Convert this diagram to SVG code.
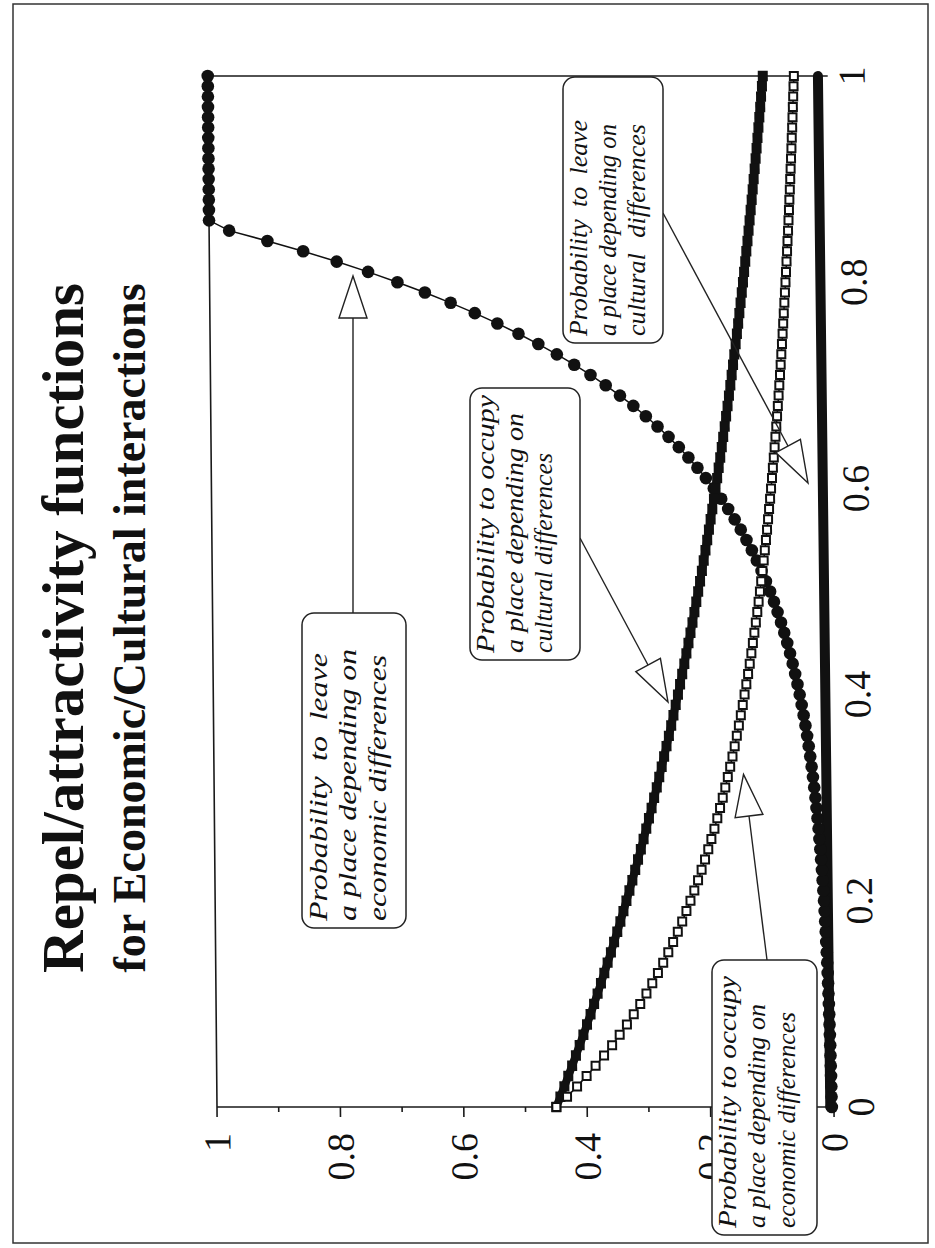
<svg xmlns="http://www.w3.org/2000/svg" width="935" height="1248" viewBox="0 0 935 1248">
<defs>
<style>
.ax{stroke:#1a1a1a;stroke-width:1.6;fill:none}
.lbl{font-family:"Liberation Serif","Times New Roman",serif;font-size:38px;fill:#111}
.ttl{font-family:"Liberation Serif","Times New Roman",serif;font-weight:bold;fill:#111}
.box{fill:#fff;stroke:#222;stroke-width:1.5}
.bt{font-family:"Liberation Serif","Times New Roman",serif;font-style:italic;font-size:26px;fill:#111}
.arr{stroke:#222;stroke-width:1.4;fill:none}
.head{fill:#fff;stroke:#222;stroke-width:1.4;stroke-linejoin:miter}
.ser{fill:none;stroke:#111;vector-effect:non-scaling-stroke}
</style>
<marker id="mDot" markerUnits="userSpaceOnUse" overflow="visible" refX="0" refY="0" markerWidth="1" markerHeight="1"><ellipse rx="10.21" ry="0.611" fill="#111"/></marker>
<marker id="mSq" markerUnits="userSpaceOnUse" overflow="visible" refX="0" refY="0" markerWidth="1" markerHeight="1"><rect x="-8.1" y="-0.505" width="16.2" height="1.01" fill="#111"/></marker>
<marker id="mOpen" markerUnits="userSpaceOnUse" overflow="visible" refX="0" refY="0" markerWidth="1" markerHeight="1"><rect x="-8.1" y="-0.485" width="16.2" height="0.97" fill="#111"/><rect x="-4.86" y="-0.291" width="9.72" height="0.582" fill="#fff"/></marker>
</defs>
<rect x="0" y="0" width="935" height="1248" fill="#fff"/>
<rect id="border" x="13" y="4" width="915" height="1239" fill="none" stroke="#333" stroke-width="1.5"/>
<g id="title">
<text class="ttl" font-size="59" text-anchor="middle" transform="translate(83,628) rotate(-90)">Repel/attractivity functions</text>
<text class="ttl" font-size="46" text-anchor="middle" transform="translate(145,628) rotate(-90)">for Economic/Cultural interactions</text>
</g>
<g id="chart" transform="matrix(1,0,0.009,1,-9.963,0)">
<path class="ax" d="M217,1107 V76 H837 M217,1107 H834"/>
<path class="ax" d="M217,1107V1117 M278.7,1107V1112 M340.4,1107V1117 M402.1,1107V1112 M463.8,1107V1117 M525.5,1107V1112 M587.2,1107V1117 M648.9,1107V1112 M710.6,1107V1117 M772.3,1107V1112 M834,1107V1117"/>
<g id="xlabels">
<text class="lbl" text-anchor="middle" transform="translate(874,1107) rotate(-90)">0</text>
<text class="lbl" text-anchor="middle" transform="translate(874,900.8) rotate(-90)">0.2</text>
<text class="lbl" text-anchor="middle" transform="translate(874,694.6) rotate(-90)">0.4</text>
<text class="lbl" text-anchor="middle" transform="translate(874,488.4) rotate(-90)">0.6</text>
<text class="lbl" text-anchor="middle" transform="translate(874,282.2) rotate(-90)">0.8</text>
<text class="lbl" text-anchor="middle" transform="translate(874,76) rotate(-90)">1</text>
</g>
<g id="ylabels">
<text class="lbl" text-anchor="end" transform="translate(230,1133) rotate(-90)">1</text>
<text class="lbl" text-anchor="end" transform="translate(353.4,1133) rotate(-90)">0.8</text>
<text class="lbl" text-anchor="end" transform="translate(476.8,1133) rotate(-90)">0.6</text>
<text class="lbl" text-anchor="end" transform="translate(600.2,1133) rotate(-90)">0.4</text>
<text class="lbl" text-anchor="end" transform="translate(723.6,1133) rotate(-90)">0.2</text>
<text class="lbl" text-anchor="end" transform="translate(847,1133) rotate(-90)">0</text>
</g>
<g id="series" transform="matrix(-0.617,0,0,-10.31,834,1107)">
<polyline id="s4" class="ser" stroke-width="10" stroke-linecap="round" points="6,0 11,100"/>
<polyline id="s1" class="ser" stroke-width="1.5" marker-start="url(#mDot)" marker-mid="url(#mDot)" marker-end="url(#mDot)" points="3.5,0 3.8,1 4,2 4.3,3 4.6,4 4.9,5 5.2,6 5.6,7 6,8 6.4,9 6.8,10 7.3,11 7.8,12 8.3,13 8.9,14 9.5,15 10.2,16 10.9,17 11.6,18 12.4,19 13.2,20 14.1,21 15.1,22 16.1,23 17.3,24 18.4,25 19.7,26 21,27 22.5,28 24,29 25.6,30 27.4,31 29.3,32 31.3,33 33.4,34 35.7,35 38.1,36 40.7,37 43.5,38 46.5,39 49.6,40 53,41 56.6,42 60.5,43 64.6,44 69,45 73.7,46 78.8,47 84.2,48 89.9,49 96,50 102.6,51 109.6,52 117.1,53 125,54 133.6,55 142.7,56 152.4,57 162.8,58 173.9,59 185.8,60 198.5,61 212,62 226.5,63 241.9,64 258.4,65 276.1,66 294.9,67 315,68 336.5,69 359.5,70 384,71 410.2,72 438.2,73 468.1,74 500.1,75 534.2,76 570.6,77 609.6,78 651.2,79 695.6,80 743,81 793.7,82 847.9,83 905.7,84 967.5,85 1000,86 1000,87 1000,88 1000,89 1000,90 1000,91 1000,92 1000,93 1000,94 1000,95 1000,96 1000,97 1000,98 1000,99 1000,100"/>
<polyline id="s2" class="ser" stroke-width="8" marker-start="url(#mSq)" marker-mid="url(#mSq)" marker-end="url(#mSq)" points="450,0 443.3,1 436.7,2 430.2,3 423.8,4 417.5,5 411.3,6 405.1,7 399.1,8 393.2,9 387.3,10 381.5,11 375.9,12 370.3,13 364.8,14 359.3,15 354,16 348.7,17 343.5,18 338.4,19 333.4,20 328.4,21 323.5,22 318.7,23 314,24 309.3,25 304.7,26 300.2,27 295.7,28 291.3,29 287,30 282.6,31 278.4,32 274.3,33 270.2,34 266.2,35 262.2,36 258.3,37 254.5,38 250.7,39 246.9,40 243.3,41 239.7,42 236.1,43 232.6,44 229.1,45 225.7,46 222.3,47 219,48 215.8,49 212.6,50 209.4,51 206.3,52 203.2,53 200.2,54 197.2,55 194.3,56 191.4,57 188.5,58 185.7,59 183,60 180.2,61 177.6,62 174.9,63 172.3,64 169.8,65 167.2,66 164.8,67 162.3,68 159.9,69 157.5,70 155.2,71 152.8,72 150.6,73 148.3,74 146.1,75 143.9,76 141.8,77 139.7,78 137.6,79 135.5,80 133.5,81 131.5,82 129.6,83 127.6,84 125.7,85 123.9,86 122,87 120.2,88 118.4,89 116.7,90 114.9,91 113.2,92 111.5,93 109.9,94 108.2,95 106.6,96 105,97 103.5,98 101.9,99 100.4,100"/>
<polyline id="s3" class="ser" stroke-width="1.5" marker-start="url(#mOpen)" marker-mid="url(#mOpen)" marker-end="url(#mOpen)" points="450,0 432.5,1 416.1,2 400.5,3 385.8,4 371.9,5 358.7,6 346.3,7 334.4,8 323.2,9 312.5,10 302.3,11 292.7,12 283.4,13 274.7,14 266.3,15 258.3,16 250.6,17 243.3,18 236.3,19 229.6,20 223.2,21 217,22 211.1,23 205.4,24 200,25 194.8,26 189.7,27 184.9,28 180.3,29 175.8,30 171.5,31 167.3,32 163.3,33 159.4,34 155.7,35 152.1,36 148.6,37 145.3,38 142,39 138.9,40 135.9,41 132.9,42 130.1,43 127.3,44 124.7,45 122.1,46 119.6,47 117.1,48 114.8,49 112.5,50 110.3,51 108.1,52 106,53 104,54 102,55 100.1,56 98.3,57 96.5,58 94.7,59 93,60 91.3,61 89.7,62 88.1,63 86.6,64 85.1,65 83.6,66 82.2,67 80.8,68 79.4,69 78.1,70 76.8,71 75.6,72 74.4,73 73.2,74 72,75 70.9,76 69.8,77 68.7,78 67.6,79 66.6,80 65.6,81 64.6,82 63.6,83 62.7,84 61.7,85 60.8,86 59.9,87 59.1,88 58.2,89 57.4,90 56.6,91 55.8,92 55,93 54.3,94 53.5,95 52.8,96 52.1,97 51.4,98 50.7,99 50,100"/>
</g>
</g>
<g id="connectors">
<line class="arr" x1="353" y1="613" x2="353" y2="318"/>
<polygon class="head" points="353,276 339,318 367,318"/>
<line class="arr" x1="580" y1="538" x2="648" y2="665"/>
<polygon class="head" points="668,702 635.8,671.6 660.4,658.4"/>
<line class="arr" x1="663" y1="213" x2="788" y2="446"/>
<polygon class="head" points="808,483 775.8,452.6 800.4,439.4"/>
<line class="arr" x1="767" y1="960" x2="749" y2="816"/>
<polygon class="head" points="743.5,774.4 762.9,814.3 735.1,817.7"/>
</g>
<g id="box-leave-cultural">
<rect class="box" x="563" y="77" width="100" height="266" rx="12"/>
<text class="bt" transform="translate(587,336) rotate(-90)" textLength="216" lengthAdjust="spacingAndGlyphs" word-spacing="6">Probability to leave</text>
<text class="bt" transform="translate(616,336) rotate(-90)" textLength="212" lengthAdjust="spacingAndGlyphs">a place depending on</text>
<text class="bt" transform="translate(645,336) rotate(-90)" textLength="212" lengthAdjust="spacingAndGlyphs" word-spacing="9">cultural differences</text>
</g>
<g id="box-occupy-cultural">
<rect class="box" x="470" y="388" width="110" height="272" rx="12"/>
<text class="bt" transform="translate(494,653) rotate(-90)" textLength="258" lengthAdjust="spacingAndGlyphs">Probability to occupy</text>
<text class="bt" transform="translate(523,653) rotate(-90)" textLength="240" lengthAdjust="spacingAndGlyphs">a place depending on</text>
<text class="bt" transform="translate(552,653) rotate(-90)" textLength="200" lengthAdjust="spacingAndGlyphs">cultural differences</text>
</g>
<g id="box-leave-economic">
<rect class="box" x="302" y="613" width="104" height="315" rx="12"/>
<text class="bt" transform="translate(327,921) rotate(-90)" textLength="268" lengthAdjust="spacingAndGlyphs" word-spacing="6">Probability to leave</text>
<text class="bt" transform="translate(356,921) rotate(-90)" textLength="272" lengthAdjust="spacingAndGlyphs">a place depending on</text>
<text class="bt" transform="translate(386,921) rotate(-90)" textLength="266" lengthAdjust="spacingAndGlyphs">economic differences</text>
</g>
<g id="box-occupy-economic">
<rect class="box" x="712" y="960" width="105" height="275" rx="12"/>
<text class="bt" transform="translate(736,1228) rotate(-90)" textLength="252" lengthAdjust="spacingAndGlyphs">Probability to occupy</text>
<text class="bt" transform="translate(765,1228) rotate(-90)" textLength="224" lengthAdjust="spacingAndGlyphs">a place depending on</text>
<text class="bt" transform="translate(795,1228) rotate(-90)" textLength="216" lengthAdjust="spacingAndGlyphs">economic differences</text>
</g>
</svg>
